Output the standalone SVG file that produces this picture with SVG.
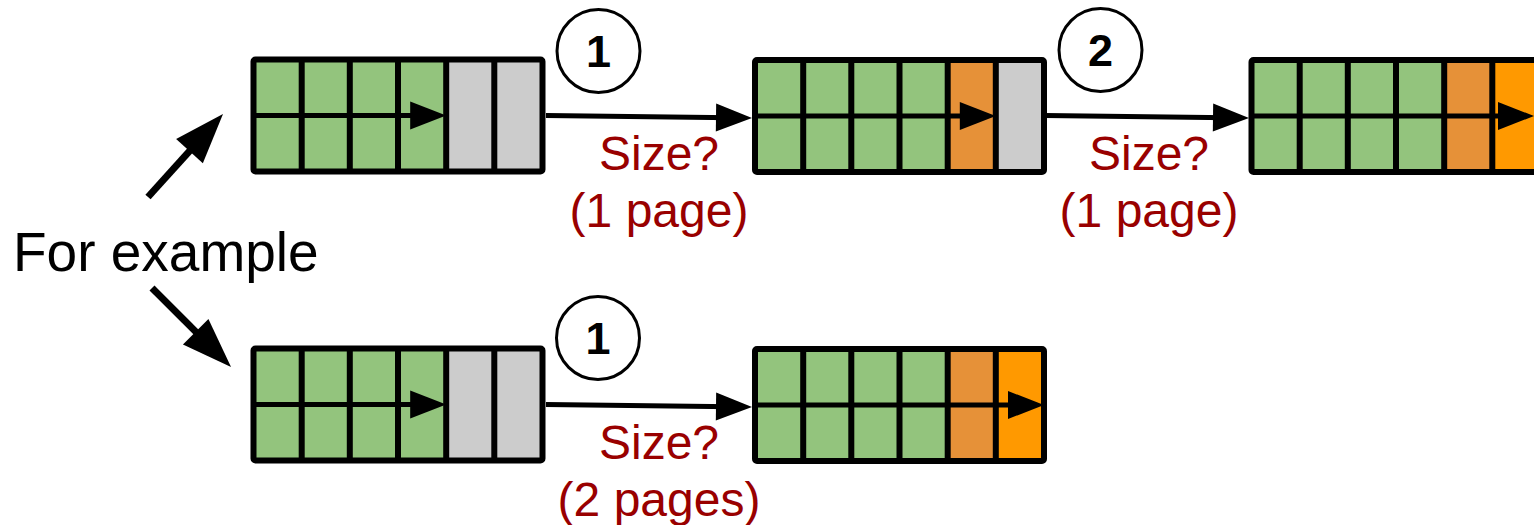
<svg xmlns="http://www.w3.org/2000/svg" width="1534" height="525" viewBox="0 0 1534 525">
  <style>
    .green { fill: #93c47d; }
    .gray { fill: #cccccc; }
    .amber { fill: #e69138; }
    .orange { fill: #ff9900; }
    .frame { fill: none; stroke: #000; stroke-width: 6; }
    .grid { fill: none; stroke: #000; stroke-width: 6; }
    .inner { stroke: #000; stroke-width: 5; }
    .link { fill: none; stroke: #000; stroke-width: 5; }
    .fork { fill: none; stroke: #000; stroke-width: 7; }
    .step { fill: #fff; stroke: #000; stroke-width: 3; }
    .stepnum { font-family: "Liberation Sans", Arial, sans-serif; font-weight: bold; font-size: 45px; text-anchor: middle; fill: #000; }
    .size { font-family: "Liberation Sans", Arial, sans-serif; font-size: 48px; text-anchor: middle; fill: #990000; }
    .lead { font-family: "Liberation Sans", Arial, sans-serif; font-size: 55px; fill: #000; }
  </style>
  <defs>
    <marker id="head" markerUnits="userSpaceOnUse" markerWidth="38" markerHeight="30" refX="16" refY="14" orient="auto" overflow="visible">
      <path d="M0,0 L36,14 L0,28 Z" fill="#000"/>
    </marker>
    <marker id="bighead" markerUnits="userSpaceOnUse" markerWidth="52" markerHeight="38" refX="30" refY="18" orient="auto" overflow="visible">
      <path d="M0,0 L50,18 L0,36 Z" fill="#000"/>
    </marker>
    <!-- 6 columns x 2 rows page grid, local coords 0..289 x 0..112 -->
    <path id="gridlines" d="M48.2,0 V112 M96.3,0 V112 M144.5,0 V112 M192.7,0 V112 M240.8,0 V112"/>
  </defs>

  <!-- Top row: initial buffer -->
  <g id="buf-top-a" transform="translate(253.5,59.5)">
    <rect class="green" x="0" y="0" width="192.7" height="112"/>
    <rect class="gray" x="192.7" y="0" width="96.3" height="112"/>
    <use href="#gridlines" class="grid"/>
    <line class="inner" x1="0" y1="56" x2="172.7" y2="56" marker-end="url(#head)"/>
    <rect class="frame" x="0" y="0" width="289" height="112" rx="2"/>
  </g>

  <!-- Top row: after first growth -->
  <g id="buf-top-b" transform="translate(755,60)">
    <rect class="green" x="0" y="0" width="192.7" height="112"/>
    <rect class="amber" x="192.7" y="0" width="48.1" height="112"/>
    <rect class="gray" x="240.8" y="0" width="48.2" height="112"/>
    <use href="#gridlines" class="grid"/>
    <line class="inner" x1="0" y1="56" x2="220.8" y2="56" marker-end="url(#head)"/>
    <rect class="frame" x="0" y="0" width="289" height="112" rx="2"/>
  </g>

  <!-- Top row: after second growth -->
  <g id="buf-top-c" transform="translate(1251.5,60)">
    <rect class="green" x="0" y="0" width="192.7" height="112"/>
    <rect class="amber" x="192.7" y="0" width="48.1" height="112"/>
    <rect class="orange" x="240.8" y="0" width="48.2" height="112"/>
    <use href="#gridlines" class="grid"/>
    <line class="inner" x1="0" y1="56" x2="262.5" y2="56" marker-end="url(#head)"/>
    <rect class="frame" x="0" y="0" width="289" height="112" rx="2"/>
  </g>

  <!-- Bottom row: initial buffer -->
  <g id="buf-bot-a" transform="translate(253.5,348.5)">
    <rect class="green" x="0" y="0" width="192.7" height="112"/>
    <rect class="gray" x="192.7" y="0" width="96.3" height="112"/>
    <use href="#gridlines" class="grid"/>
    <line class="inner" x1="0" y1="56" x2="172.7" y2="56" marker-end="url(#head)"/>
    <rect class="frame" x="0" y="0" width="289" height="112" rx="2"/>
  </g>

  <!-- Bottom row: after two-page growth -->
  <g id="buf-bot-b" transform="translate(755,349)">
    <rect class="green" x="0" y="0" width="192.7" height="112"/>
    <rect class="amber" x="192.7" y="0" width="48.1" height="112"/>
    <rect class="orange" x="240.8" y="0" width="48.2" height="112"/>
    <use href="#gridlines" class="grid"/>
    <line class="inner" x1="0" y1="56" x2="269" y2="56" marker-end="url(#head)"/>
    <rect class="frame" x="0" y="0" width="289" height="112" rx="2"/>
  </g>

  <!-- Connectors -->
  <g id="connectors">
    <line class="fork" x1="148" y1="197" x2="209.6" y2="128.8" marker-end="url(#bighead)"/>
    <line class="fork" x1="152" y1="288" x2="216.9" y2="352.9" marker-end="url(#bighead)"/>
    <line class="link" x1="546" y1="115.5" x2="732" y2="117.8" marker-end="url(#head)"/>
    <line class="link" x1="1045" y1="115.5" x2="1229" y2="117.8" marker-end="url(#head)"/>
    <line class="link" x1="546" y1="404.5" x2="732" y2="406.8" marker-end="url(#head)"/>
  </g>

  <!-- Step markers -->
  <g id="step-1-top">
    <circle class="step" cx="598.5" cy="51" r="41.5"/>
    <text class="stepnum" x="598.5" y="67">1</text>
  </g>
  <g id="step-2-top">
    <circle class="step" cx="1100.5" cy="50" r="41.5"/>
    <text class="stepnum" x="1100.5" y="66">2</text>
  </g>
  <g id="step-1-bottom">
    <circle class="step" cx="598" cy="338" r="41.5"/>
    <text class="stepnum" x="598" y="354">1</text>
  </g>

  <!-- Growth size labels -->
  <g id="label-top-1">
    <text class="size" x="659" y="170">Size?</text>
    <text class="size" x="659" y="227">(1 page)</text>
  </g>
  <g id="label-top-2">
    <text class="size" x="1149" y="170">Size?</text>
    <text class="size" x="1149" y="227">(1 page)</text>
  </g>
  <g id="label-bottom-1">
    <text class="size" x="659" y="459">Size?</text>
    <text class="size" x="659" y="516">(2 pages)</text>
  </g>

  <g id="lead">
    <text class="lead" x="13" y="271">For example</text>
  </g>
</svg>
